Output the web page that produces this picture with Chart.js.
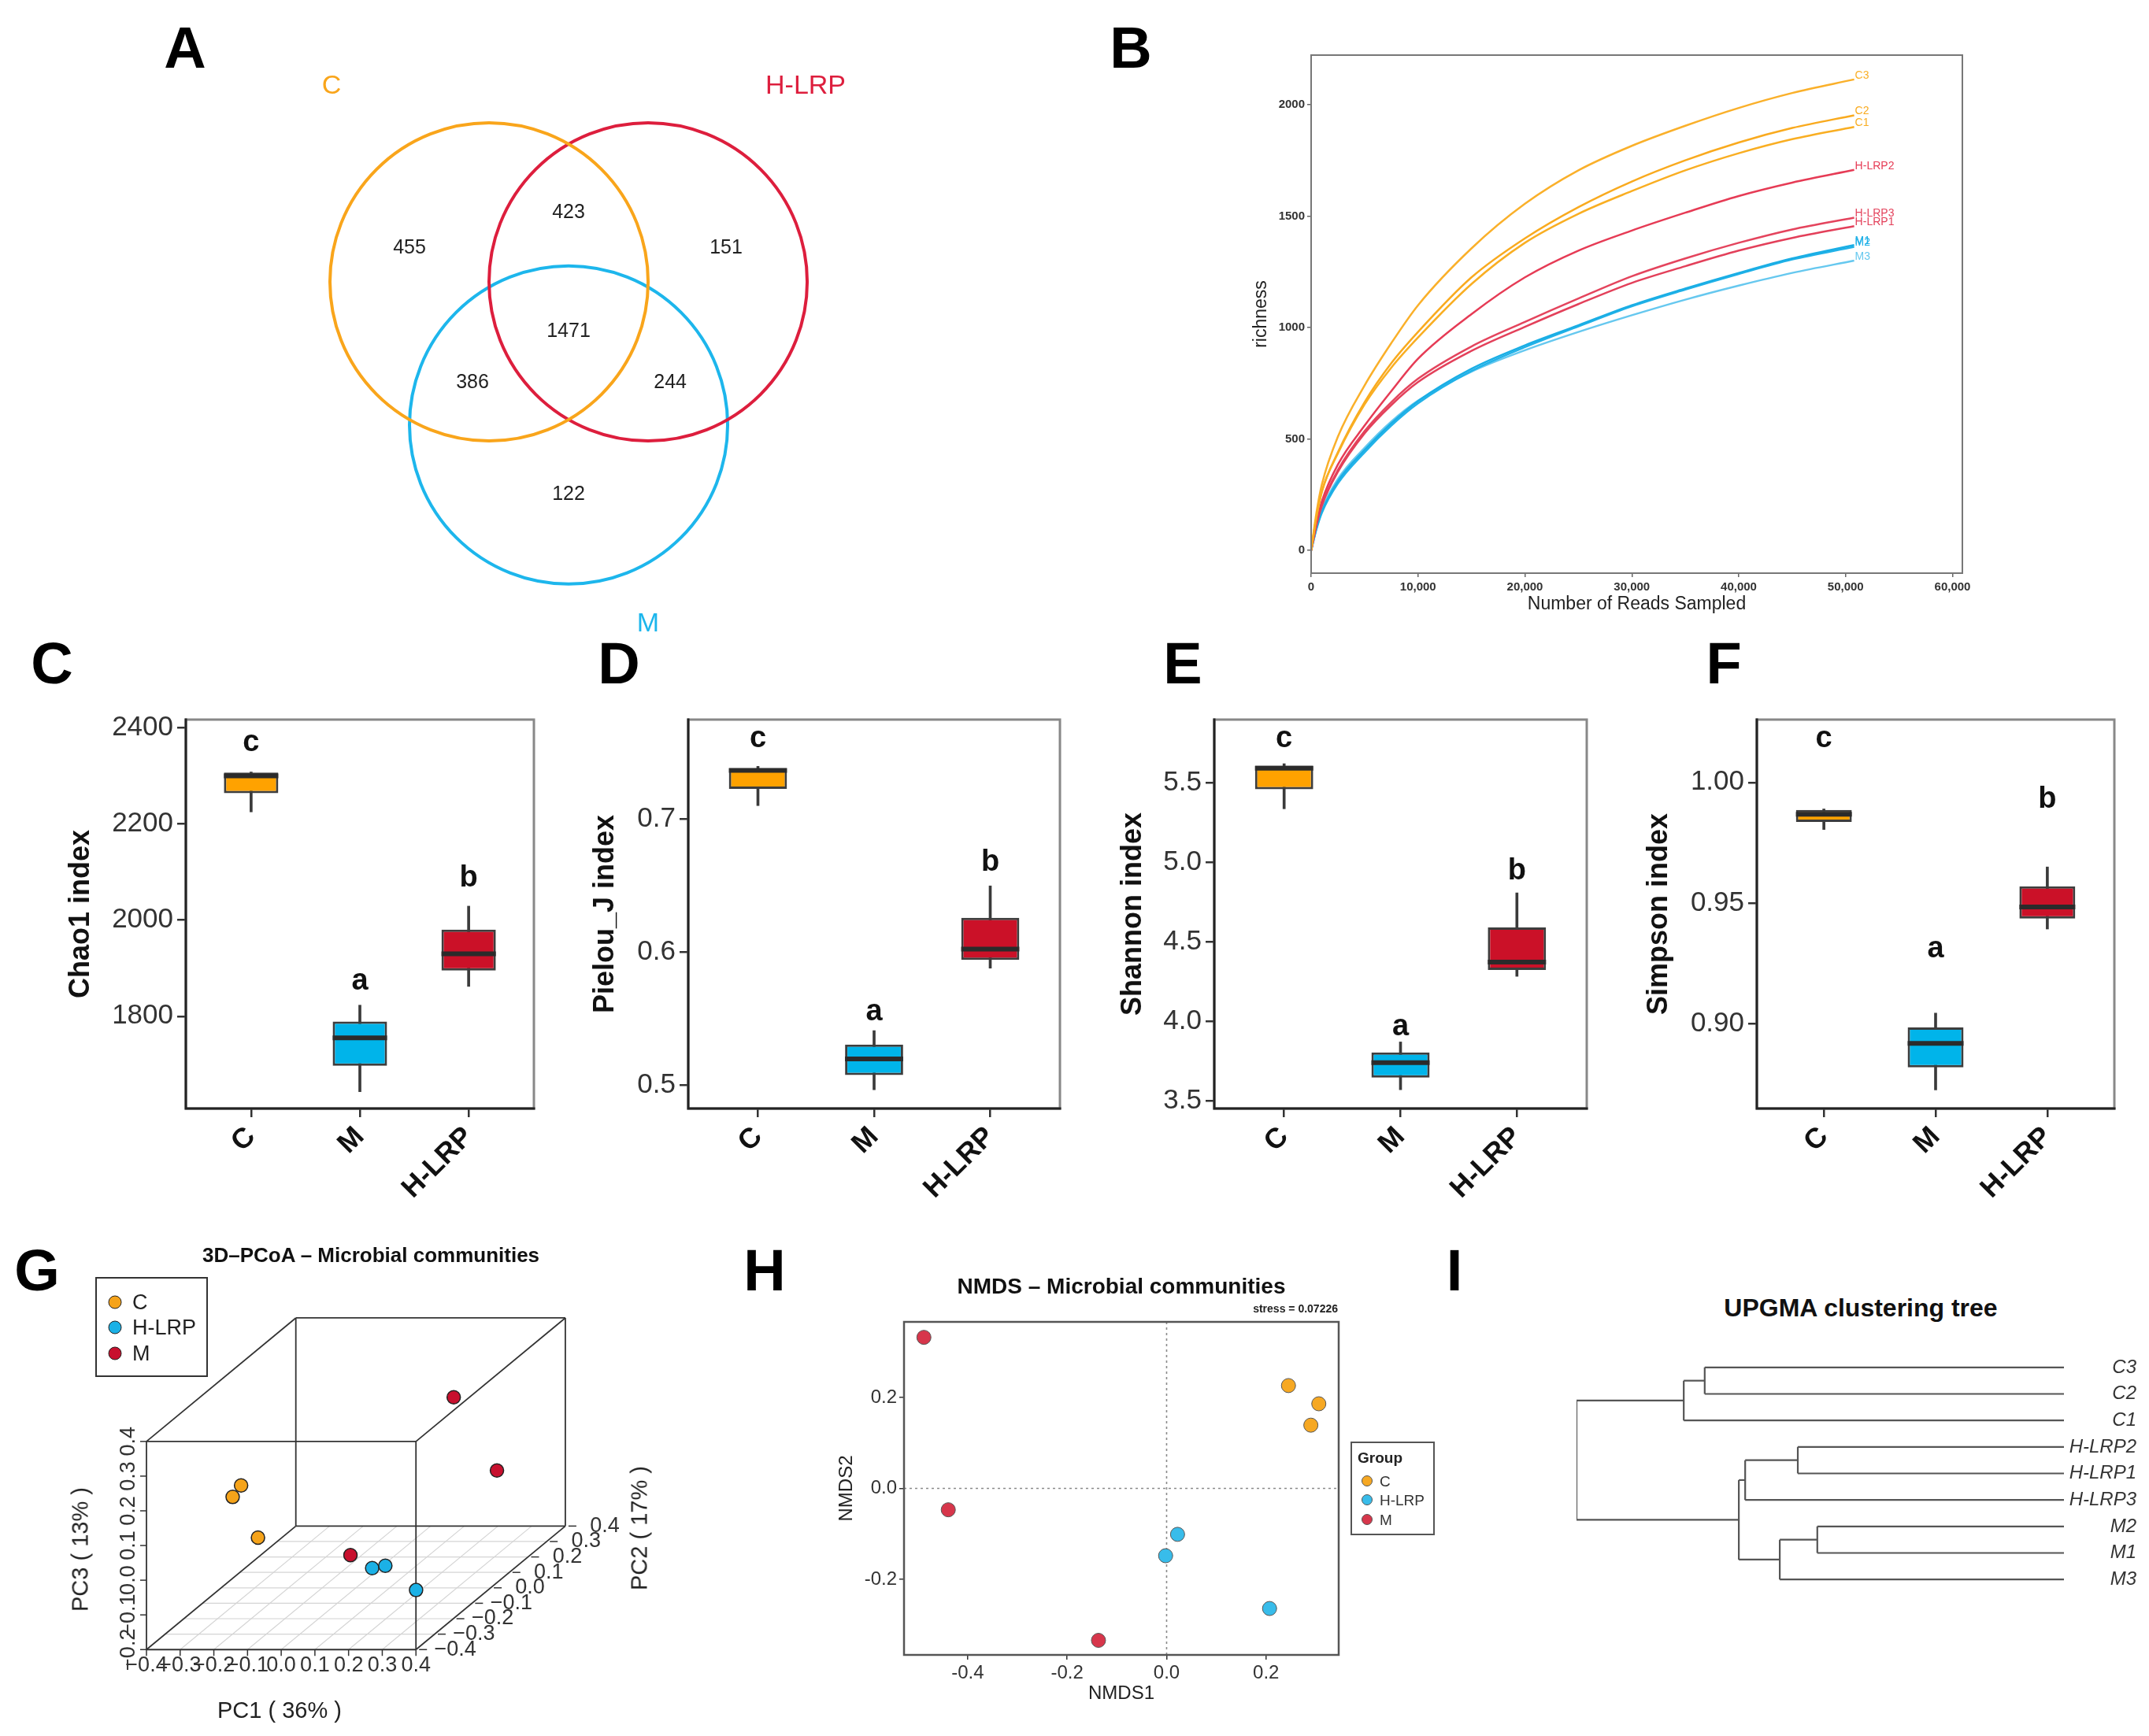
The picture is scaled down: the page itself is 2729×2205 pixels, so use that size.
<!DOCTYPE html>
<html>
<head>
<meta charset="utf-8">
<title>Gut microbiota diversity</title>
<script src="https://cdn.jsdelivr.net/npm/chart.js@4.4.1/dist/chart.umd.min.js"></script>
<style>
  body { margin: 0; background: #fff; }
  #page { position: relative; width: 2729px; height: 2205px; overflow: hidden; background: #fff;
          font-family: 'Liberation Sans', Arial, Helvetica, sans-serif; color: #222; }
  #page canvas { position: absolute; }
  .t { position: absolute; white-space: nowrap; line-height: 1; transform: translate(-50%, -50%); }
  .tl { position: absolute; white-space: nowrap; line-height: 1; transform: translate(0, -50%); }
  .panel { font-size: 74px; font-weight: bold; color: #000; }
  .dot { position: absolute; border-radius: 50%; transform: translate(-50%, -50%); box-sizing: border-box; }
  .box { position: absolute; box-sizing: border-box; }
</style>
</head>
<body>
<div id="page"></div>
<script>
// ---------------- A: Venn
const vennSets = ["C", "H-LRP", "M"];
// C only, C&H, H only, C&M, all three, H&M, M only
const vennCounts = [455, 423, 151, 386, 1471, 244, 122];

// ---------------- B: rarefaction curves
const readDepth = [0, 500, 1000, 2500, 5000, 7500, 10000, 15000, 20000, 25000, 30000, 35000, 40000, 45000, 50800];
const rareC1 = [0, 152, 265, 435, 655, 820, 955, 1195, 1380, 1510, 1612, 1705, 1782, 1845, 1900];
const rareC2 = [0, 150, 262, 440, 665, 840, 980, 1225, 1400, 1540, 1655, 1750, 1830, 1895, 1952];
const rareC3 = [0, 170, 295, 510, 740, 930, 1100, 1355, 1555, 1705, 1815, 1905, 1985, 2052, 2113];
const rareH1 = [0, 115, 200, 352, 525, 652, 755, 895, 1003, 1105, 1200, 1275, 1345, 1402, 1455];
const rareH2 = [0, 125, 220, 385, 560, 715, 860, 1060, 1225, 1345, 1435, 1515, 1590, 1650, 1707];
const rareH3 = [0, 118, 205, 360, 535, 665, 770, 915, 1025, 1130, 1230, 1310, 1380, 1440, 1493];
const rareM1 = [0, 100, 175, 310, 450, 570, 670, 815, 920, 1010, 1100, 1175, 1245, 1310, 1370];
const rareM2 = [0, 95, 168, 300, 440, 560, 660, 805, 912, 1005, 1095, 1170, 1240, 1305, 1362];
const rareM3 = [0, 105, 182, 320, 460, 578, 672, 802, 898, 980, 1055, 1125, 1188, 1245, 1300];
const rareNames = ["C1", "C2", "C3", "H-LRP1", "H-LRP2", "H-LRP3", "M1", "M2", "M3"];
const rareTicksX = [0, 10000, 20000, 30000, 40000, 50000, 60000];
const rareTicksY = [0, 500, 1000, 1500, 2000];

// ---------------- C-F: alpha diversity boxplots
const groups = ["C", "M", "H-LRP"];
// [lower whisker, Q1, median, Q3, upper whisker]
const chao1Stats = [[2225, 2264, 2300, 2307, 2308], [1643, 1697, 1755, 1789, 1823], [1862, 1895, 1930, 1980, 2029]];
const pielouStats = [[0.710, 0.7226, 0.7364, 0.738, 0.7395], [0.4966, 0.5076, 0.5198, 0.5306, 0.541], [0.5879, 0.5941, 0.6023, 0.6257, 0.6497]];
const shannonStats = [[5.335, 5.457, 5.59, 5.606, 5.618], [3.571, 3.647, 3.741, 3.805, 3.871], [4.283, 4.323, 4.372, 4.59, 4.807]];
const simpsonStats = [[0.9805, 0.9836, 0.9868, 0.9886, 0.989], [0.8727, 0.882, 0.892, 0.8986, 0.9045], [0.9393, 0.9436, 0.9484, 0.957, 0.965]];
const sigLetters = ["c", "a", "b"];
const chao1LetterY = [2369, 1873, 2087];
const pielouLetterY = [0.760, 0.555, 0.667];
const shannonLetterY = [5.772, 3.963, 4.944];
const simpsonLetterY = [1.018, 0.931, 0.993];
const chao1Ticks = [1800, 2000, 2200, 2400];
const pielouTicks = [0.5, 0.6, 0.7];
const shannonTicks = [3.5, 4.0, 4.5, 5.0, 5.5];
const simpsonTicks = [0.90, 0.95, 1.00];

// ---------------- G: 3D PCoA
const pcoaGroups = ["C", "H-LRP", "M"];
const pc1C = [-0.230, -0.255, -0.202], pc2C = [-0.20, -0.20, -0.16], pc3C = [0.184, 0.151, 0.016];
const pc1H = [0.137, 0.176, 0.356], pc2H = [-0.16, -0.16, -0.32], pc3H = [-0.072, -0.065, -0.064];
const pc1M = [0.113, 0.330, 0.006], pc2M = [0.32, 0.16, -0.04], pc3M = [0.207, 0.067, -0.088];
const pc1Ticks = [-0.4, -0.3, -0.2, -0.1, 0.0, 0.1, 0.2, 0.3, 0.4];
const pc2Ticks = [-0.4, -0.3, -0.2, -0.1, 0.0, 0.1, 0.2, 0.3, 0.4];
const pc3Ticks = [-0.2, -0.1, 0.0, 0.1, 0.2, 0.3, 0.4];

// ---------------- H: NMDS
const nmds1C = [0.245, 0.306, 0.290], nmds2C = [0.226, 0.186, 0.139];
const nmds1H = [0.022, -0.002, 0.207], nmds2H = [-0.101, -0.148, -0.264];
const nmds1M = [-0.488, -0.439, -0.137], nmds2M = [0.332, -0.047, -0.334];
const nmdsTicksX = [-0.4, -0.2, 0.0, 0.2];
const nmdsTicksY = [-0.2, 0.0, 0.2];

// ---------------- I: UPGMA tree
const treeLeaves = ["C3", "C2", "C1", "H-LRP2", "H-LRP1", "H-LRP3", "M2", "M1", "M3"];
// [child, child, height]; numbers refer to earlier merges
const treeMerges = [["M2", "M1", 0.506], ["H-LRP2", "H-LRP1", 0.546], [0, "M3", 0.583], [1, "H-LRP3", 0.654],
                    [3, 2, 0.667], ["C3", "C2", 0.737], [5, "C1", 0.780], [6, 4, 1.0]];

// ====================================================================
const FONT = "'Liberation Sans', Arial, Helvetica, sans-serif";
Chart.defaults.font.family = FONT;
Chart.defaults.color = '#222';
Chart.defaults.animation = false;
Chart.defaults.responsive = false;
Chart.defaults.devicePixelRatio = 1;
Chart.defaults.events = [];
Chart.defaults.plugins.legend.display = false;
Chart.defaults.plugins.tooltip.enabled = false;

const page = document.getElementById('page');

function makeCanvas(left, top, w, h) {
  const c = document.createElement('canvas');
  c.width = w; c.height = h;
  c.style.left = left + 'px'; c.style.top = top + 'px';
  c.style.width = w + 'px'; c.style.height = h + 'px';
  page.appendChild(c);
  return c;
}

function addText(txt, x, y, css, cls) {
  const d = document.createElement('div');
  d.className = cls || 't';
  d.textContent = txt;
  d.style.left = x + 'px';
  d.style.top = y + 'px';
  if (css) d.style.cssText += css;
  page.appendChild(d);
  return d;
}

function addDot(x, y, r, fill, border) {
  const d = document.createElement('div');
  d.className = 'dot';
  d.style.cssText += `left:${x}px;top:${y}px;width:${2 * r}px;height:${2 * r}px;background:${fill};border:${border};`;
  page.appendChild(d);
}

const fixedTicks = arr => scale => { scale.ticks = arr.map(v => ({ value: v })); };

// grey box round the plot area, optional dark left/bottom axis lines
const framePlugin = {
  id: 'frame',
  afterDraw(chart, args, o) {
    const { ctx, chartArea: a } = chart;
    ctx.save();
    ctx.lineWidth = o.width;
    ctx.strokeStyle = o.color;
    ctx.strokeRect(a.left, a.top, a.right - a.left, a.bottom - a.top);
    if (o.axisColor) {
      ctx.strokeStyle = o.axisColor;
      ctx.beginPath();
      ctx.moveTo(a.left, a.top - o.width / 2);
      ctx.lineTo(a.left, a.bottom);
      ctx.lineTo(a.right + o.width / 2, a.bottom);
      ctx.stroke();
    }
    ctx.restore();
  }
};

// ---------------------------------------------------------------- A
const vennColors = ['#F9A51B', '#DD1E3D', '#1DB6EC'];
const vennCenters = [{ x: 0, y: 0 }, { x: 1, y: 0 }, { x: 0.5, y: -0.9 }];
const vennCountPos = [[-0.5, 0.213], [0.5, 0.436], [1.49, 0.213], [-0.104, -0.634], [0.5, -0.312], [1.139, -0.634], [0.5, -1.337]];
const vennNamePos = [[-0.99, 1.228], [1.99, 1.228], [1.0, -2.153]];

const vennTextPlugin = {
  id: 'vennText',
  afterDatasetsDraw(chart) {
    const { ctx, scales: { x, y } } = chart;
    ctx.save();
    ctx.textAlign = 'center';
    ctx.textBaseline = 'middle';
    ctx.font = '25px ' + FONT;
    ctx.fillStyle = '#222';
    vennCounts.forEach((n, i) => ctx.fillText(String(n), x.getPixelForValue(vennCountPos[i][0]), y.getPixelForValue(vennCountPos[i][1])));
    ctx.font = '34px ' + FONT;
    vennSets.forEach((s, i) => {
      ctx.fillStyle = vennColors[i];
      ctx.fillText(s, x.getPixelForValue(vennNamePos[i][0]), y.getPixelForValue(vennNamePos[i][1]));
    });
    ctx.restore();
  }
};

const unitRadius = ctx => {
  const s = ctx.chart.scales.x;
  return s.getPixelForValue(1) - s.getPixelForValue(0);
};

new Chart(makeCanvas(300, 80, 800, 760), {
  type: 'scatter',
  data: {
    datasets: vennSets.map((s, i) => ({
      label: s,
      data: [vennCenters[i]],
      pointRadius: unitRadius,
      backgroundColor: 'rgba(0,0,0,0)',
      borderColor: vennColors[i],
      borderWidth: 4,
      pointBorderWidth: 4
    }))
  },
  options: {
    layout: { padding: 0 },
    scales: {
      x: { display: false, min: -1.589, max: 2.371 },
      y: { display: false, min: -2.386, max: 1.376 }
    }
  },
  plugins: [vennTextPlugin]
});

// ---------------------------------------------------------------- B
const rareSeries = [rareC1, rareC2, rareC3, rareH1, rareH2, rareH3, rareM1, rareM2, rareM3];
const rareColors = ['#F9AE22', '#F9AA1E', '#FAB02A', '#E3405A', '#E63B55', '#E4445D', '#1AAEE5', '#22B2E8', '#66C8EF'];

const endLabelPlugin = {
  id: 'endLabels',
  afterDatasetsDraw(chart) {
    const { ctx } = chart;
    ctx.save();
    ctx.font = '14px ' + FONT;
    ctx.textAlign = 'left';
    ctx.textBaseline = 'middle';
    chart.data.datasets.forEach((ds, i) => {
      const pts = chart.getDatasetMeta(i).data;
      const last = pts[pts.length - 1];
      ctx.fillStyle = ds.borderColor;
      ctx.fillText(ds.label, last.x + 1, last.y - 5);
    });
    ctx.restore();
  }
};

new Chart(makeCanvas(1540, 40, 1020, 760), {
  type: 'line',
  data: {
    datasets: rareNames.map((name, i) => ({
      label: name,
      data: readDepth.map((d, j) => ({ x: d, y: rareSeries[i][j] })),
      borderColor: rareColors[i],
      borderWidth: 2.5,
      pointRadius: 0,
      cubicInterpolationMode: 'monotone'
    }))
  },
  options: {
    layout: { padding: { top: 30, right: 68 } },
    scales: {
      x: {
        type: 'linear', min: 0, max: 60920,
        afterBuildTicks: fixedTicks(rareTicksX),
        afterFit: s => { s.height = 72; },
        ticks: { callback: v => v.toLocaleString('en-US'), font: { size: 15, weight: 'bold' }, color: '#333', padding: 4, maxRotation: 0, autoSkip: false },
        grid: { drawOnChartArea: false, tickLength: 5, color: '#666', lineWidth: 1.5 },
        border: { display: false },
        title: { display: true, text: 'Number of Reads Sampled', font: { size: 23 }, color: '#222', padding: { bottom: 19 } }
      },
      y: {
        min: -102, max: 2222,
        afterBuildTicks: fixedTicks(rareTicksY),
        afterFit: s => { s.width = 125; },
        ticks: { callback: v => String(v), font: { size: 15, weight: 'bold' }, color: '#333', padding: 3 },
        grid: { drawOnChartArea: false, tickLength: 5, color: '#666', lineWidth: 1.5 },
        border: { display: false },
        title: { display: true, text: 'richness', font: { size: 23 }, color: '#222', padding: { top: 48 } }
      }
    },
    plugins: { frame: { color: '#777', width: 2 } }
  },
  plugins: [framePlugin, endLabelPlugin]
});

// ---------------------------------------------------------------- C-F
const groupColors = ['#FFA200', '#00B4EA', '#CB1128'];

const letterPlugin = {
  id: 'letters',
  afterDatasetsDraw(chart, args, o) {
    const { ctx, scales: { x, y } } = chart;
    ctx.save();
    ctx.font = 'bold 38px ' + FONT;
    ctx.fillStyle = '#111';
    ctx.textAlign = 'center';
    ctx.textBaseline = 'middle';
    o.heights.forEach((h, i) => ctx.fillText(sigLetters[i], x.getPixelForValue(i + 1), y.getPixelForValue(h)));
    ctx.restore();
  }
};

const halfBox = ctx => {
  const s = ctx.chart.scales.x;
  return s.getPixelForValue(1.25) - s.getPixelForValue(1);
};

const boxPanels = [
  { stats: chao1Stats, ticks: chao1Ticks, letters: chao1LetterY, min: 1608, max: 2417, dec: 0, title: 'Chao1 index', L: 236, R: 678, titleX: 103 },
  { stats: pielouStats, ticks: pielouTicks, letters: pielouLetterY, min: 0.4825, max: 0.7746, dec: 1, title: 'Pielou_J index', L: 874, R: 1346, titleX: 769 },
  { stats: shannonStats, ticks: shannonTicks, letters: shannonLetterY, min: 3.453, max: 5.895, dec: 1, title: 'Shannon index', L: 1542, R: 2015, titleX: 1439 },
  { stats: simpsonStats, ticks: simpsonTicks, letters: simpsonLetterY, min: 0.865, max: 1.026, dec: 2, title: 'Simpson index', L: 2231, R: 2685, titleX: 2107 }
];

boxPanels.forEach(p => {
  const left = p.L - 200;
  const tickGrid = { display: true, drawOnChartArea: false, tickLength: 11, color: '#333', lineWidth: 2.5 };
  new Chart(makeCanvas(left, 880, p.R - p.L + 220, 700), {
    type: 'bar',
    data: {
      datasets: [
        { data: p.stats.map((s, i) => ({ x: i + 1, y: [s[0], s[4]] })), backgroundColor: '#3a3a3a', barThickness: 3, grouped: false, order: 3 },
        { data: p.stats.map((s, i) => ({ x: i + 1, y: [s[1], s[3]] })), backgroundColor: groupColors, borderColor: '#3d3d3d',
          borderWidth: 3, borderSkipped: false, barPercentage: 0.5, categoryPercentage: 1, grouped: false, order: 2 },
        { type: 'line', data: p.stats.map((s, i) => ({ x: i + 1, y: s[2] })), showLine: false, pointStyle: 'line',
          pointBorderColor: '#2b2b2b', pointBorderWidth: 6, pointRadius: halfBox, order: 1 }
      ]
    },
    options: {
      layout: { padding: { top: 34, right: 20 } },
      scales: {
        x: {
          type: 'linear', min: 0.4, max: 3.6, offset: false,
          afterBuildTicks: fixedTicks([1, 2, 3]),
          afterFit: s => { s.height = 172; },
          ticks: { callback: v => groups[v - 1], minRotation: 45, maxRotation: 45, autoSkip: false, font: { size: 36, weight: 'bold' }, color: '#111', padding: 4 },
          grid: Object.assign({ offset: false }, tickGrid),
          border: { display: false }
        },
        y: {
          min: p.min, max: p.max,
          afterBuildTicks: fixedTicks(p.ticks),
          afterFit: s => { s.width = 200; },
          ticks: { callback: v => v.toFixed(p.dec), font: { size: 35 }, color: '#333', padding: 5 },
          grid: tickGrid,
          border: { display: false },
          title: { display: true, text: p.title, font: { size: 36, weight: 'bold' }, color: '#111', padding: { top: p.titleX - left - 21.6 } }
        }
      },
      plugins: { frame: { color: '#888', width: 3, axisColor: '#222' }, letters: { heights: p.letters } }
    },
    plugins: [framePlugin, letterPlugin]
  });
});

// ---------------------------------------------------------------- G
const pcoaColors = ['#F5A31A', '#1BB1E6', '#C8102E'];
// oblique projection of the 3D box into page-like units (origin at front-left-bottom corner)
function proj(p1, p2, p3) {
  return { x: 437.5 * (p1 + 0.4) + 242.5 * (p2 + 0.4), y: 455 * (p3 + 0.2) + 202.5 * (p2 + 0.4) };
}
const r1 = [pc1Ticks[0], pc1Ticks[pc1Ticks.length - 1]];
const r2 = [pc2Ticks[0], pc2Ticks[pc2Ticks.length - 1]];
const r3 = [pc3Ticks[0], pc3Ticks[pc3Ticks.length - 1]];

const cubeEdges = [];
for (let a = 0; a < 8; a++) {
  for (let b = a + 1; b < 8; b++) {
    const d = a ^ b;
    if (d === 1 || d === 2 || d === 4) {
      const c = k => proj(r1[k & 1], r2[(k >> 1) & 1], r3[(k >> 2) & 1]);
      cubeEdges.push([c(a), c(b)]);
    }
  }
}
const floorLines = [];
pc1Ticks.slice(1, -1).forEach(v => floorLines.push([proj(v, r2[0], r3[0]), proj(v, r2[1], r3[0])]));
pc2Ticks.slice(1, -1).forEach(v => floorLines.push([proj(r1[0], v, r3[0]), proj(r1[1], v, r3[0])]));

const fmtMinus = v => (v < -1e-9 ? '\u2212' : '') + Math.abs(v).toFixed(1);

const axes3dPlugin = {
  id: 'axes3d',
  afterDatasetsDraw(chart) {
    const { ctx, scales: { x, y } } = chart;
    const px = p => ({ x: x.getPixelForValue(p.x), y: y.getPixelForValue(p.y) });
    ctx.save();
    ctx.strokeStyle = '#333';
    ctx.lineWidth = 1.5;
    ctx.fillStyle = '#333';
    ctx.font = '27px ' + FONT;
    ctx.textAlign = 'center';
    ctx.textBaseline = 'middle';
    pc1Ticks.forEach(v => {
      const p = px(proj(v, r2[0], r3[0]));
      ctx.beginPath(); ctx.moveTo(p.x, p.y); ctx.lineTo(p.x, p.y + 8); ctx.stroke();
      ctx.fillText(fmtMinus(v), p.x, p.y + 20);
    });
    pc2Ticks.forEach(v => {
      const p = px(proj(r1[1], v, r3[0]));
      ctx.beginPath(); ctx.moveTo(p.x + 4, p.y); ctx.lineTo(p.x + 14, p.y); ctx.stroke();
      ctx.fillText(fmtMinus(v), p.x + 50, p.y);
    });
    pc3Ticks.forEach(v => {
      const p = px(proj(r1[0], r2[0], v));
      ctx.beginPath(); ctx.moveTo(p.x, p.y); ctx.lineTo(p.x - 8, p.y); ctx.stroke();
      ctx.save();
      ctx.translate(p.x - 22, p.y);
      ctx.rotate(-Math.PI / 2);
      ctx.fillText(fmtMinus(v), 0, 0);
      ctx.restore();
    });
    ctx.restore();
  }
};

const lineSet = (pts, color, w, order) => ({ data: pts, showLine: true, pointRadius: 0, borderColor: color, borderWidth: w, order });
const pcoaSets = [[pc1C, pc2C, pc3C], [pc1H, pc2H, pc3H], [pc1M, pc2M, pc3M]];

new Chart(makeCanvas(0, 1570, 900, 635), {
  type: 'scatter',
  data: {
    datasets: [
      ...floorLines.map(l => lineSet(l, '#d4d4d4', 1.2, 9)),
      ...cubeEdges.map(l => lineSet(l, '#333', 1.8, 5)),
      ...pcoaSets.map((s, g) => ({
        label: pcoaGroups[g],
        data: s[0].map((v, i) => proj(v, s[1][i], s[2][i])),
        pointRadius: 8.5,
        backgroundColor: pcoaColors[g],
        borderColor: '#222',
        borderWidth: 1.5,
        pointBorderWidth: 1.5,
        order: 0
      }))
    ]
  },
  options: {
    layout: { padding: 0 },
    scales: {
      x: { display: false, min: -180, max: 720 },
      y: { display: false, min: -103, max: 532 }
    }
  },
  plugins: [axes3dPlugin]
});

// ---------------------------------------------------------------- H
const nmdsColors = ['#F6A823', '#38BCEA', '#D7364B'];
const nmdsSets = [[nmds1C, nmds2C], [nmds1H, nmds2H], [nmds1M, nmds2M]];

const zeroLinePlugin = {
  id: 'zeroLines',
  beforeDatasetsDraw(chart) {
    const { ctx, chartArea: a, scales: { x, y } } = chart;
    ctx.save();
    ctx.strokeStyle = '#8a8a8a';
    ctx.lineWidth = 1.6;
    ctx.setLineDash([3, 4]);
    ctx.beginPath();
    ctx.moveTo(x.getPixelForValue(0), a.top); ctx.lineTo(x.getPixelForValue(0), a.bottom);
    ctx.moveTo(a.left, y.getPixelForValue(0)); ctx.lineTo(a.right, y.getPixelForValue(0));
    ctx.stroke();
    ctx.restore();
  }
};

const nmdsGrid = { drawOnChartArea: false, tickLength: 6, color: '#333', lineWidth: 1.5 };
new Chart(makeCanvas(1040, 1570, 810, 610), {
  type: 'scatter',
  data: {
    datasets: nmdsSets.map((s, g) => ({
      label: pcoaGroups[g],
      data: s[0].map((v, i) => ({ x: v, y: s[1][i] })),
      pointRadius: 9,
      backgroundColor: nmdsColors[g],
      borderColor: '#555',
      borderWidth: 1,
      pointBorderWidth: 1
    }))
  },
  options: {
    layout: { padding: { top: 109, right: 150 } },
    scales: {
      x: {
        min: -0.528, max: 0.346,
        afterBuildTicks: fixedTicks(nmdsTicksX),
        afterFit: s => { s.height = 78; },
        ticks: { callback: v => v.toFixed(1), font: { size: 24 }, color: '#333', padding: 3, maxRotation: 0, autoSkip: false },
        grid: nmdsGrid,
        border: { display: false },
        title: { display: true, text: 'NMDS1', font: { size: 24 }, color: '#222', padding: { bottom: 14 } }
      },
      y: {
        min: -0.366, max: 0.366,
        afterBuildTicks: fixedTicks(nmdsTicksY),
        afterFit: s => { s.width = 108; },
        ticks: { callback: v => v.toFixed(1), font: { size: 24 }, color: '#333', padding: 3 },
        grid: nmdsGrid,
        border: { display: false },
        title: { display: true, text: 'NMDS2', font: { size: 24 }, color: '#222', padding: { top: 21 } }
      }
    },
    plugins: { frame: { color: '#555', width: 2.5 } }
  },
  plugins: [zeroLinePlugin, framePlugin]
});

// ---------------------------------------------------------------- I
function treeSegments() {
  const leafPos = {};
  treeLeaves.forEach((n, i) => { leafPos[n] = { y: i, h: 0 }; });
  const nodes = [];
  const segs = [];
  treeMerges.forEach(([a, b, h]) => {
    const na = typeof a === 'number' ? nodes[a] : leafPos[a];
    const nb = typeof b === 'number' ? nodes[b] : leafPos[b];
    segs.push([{ x: h, y: na.y }, { x: h, y: nb.y }]);
    segs.push([{ x: h, y: na.y }, { x: na.h, y: na.y }]);
    segs.push([{ x: h, y: nb.y }, { x: nb.h, y: nb.y }]);
    nodes.push({ y: (na.y + nb.y) / 2, h });
  });
  return segs;
}

// labels end (right-aligned) at the right edge of the canvas
new Chart(makeCanvas(1990, 1700, 723, 340), {
  type: 'scatter',
  data: { datasets: treeSegments().map(s => lineSet(s, '#555', 2.2, 1)) },
  options: {
    layout: { padding: { left: 12, top: 20, bottom: 17 } },
    scales: {
      x: { display: false, min: 0, max: 1, reverse: true },
      y: {
        position: 'right', min: -0.5, max: 8.5, reverse: true,
        afterBuildTicks: fixedTicks(treeLeaves.map((n, i) => i)),
        afterFit: s => { s.width = 92; },
        ticks: { callback: v => treeLeaves[v], font: { size: 24, style: 'italic' }, color: '#333', crossAlign: 'far', padding: 0, autoSkip: false },
        grid: { display: false, drawTicks: false },
        border: { display: false }
      }
    }
  }
});

// ---------------------------------------------------------------- text
[['A', 235, 61], ['B', 1436, 61], ['C', 66, 843], ['D', 786, 843], ['E', 1502, 843], ['F', 2189, 843],
 ['G', 47, 1614], ['H', 971, 1614], ['I', 1847, 1614]].forEach(([t, x, y]) => addText(t, x, y, '', 't panel'));

// G labels and legend
addText('3D\u2013PCoA \u2013 Microbial communities', 471, 1594, 'font-size:26px;font-weight:bold;color:#111;');
addText('PC1 ( 36% )', 355, 2172, 'font-size:29px;color:#222;');
addText('PC3 ( 13% )', 102, 1968, 'font-size:29px;color:#222;transform:translate(-50%,-50%) rotate(-90deg);');
addText('PC2 ( 17% )', 812, 1941, 'font-size:29px;color:#222;transform:translate(-50%,-50%) rotate(-90deg);');
const gLegend = document.createElement('div');
gLegend.className = 'box';
gLegend.style.cssText += 'left:121px;top:1622px;width:143px;height:127px;border:2px solid #333;';
page.appendChild(gLegend);
pcoaGroups.forEach((g, i) => {
  const yy = [1654, 1686, 1719][i];
  addDot(146, yy, 8.5, pcoaColors[i], '1.5px solid #222');
  addText(g, 168, yy, 'font-size:27px;color:#222;', 'tl');
});

// H labels and legend
addText('NMDS \u2013 Microbial communities', 1424, 1634, 'font-size:28px;font-weight:bold;color:#111;');
addText('stress = 0.07226', 1699, 1662, 'font-size:14px;font-weight:bold;color:#222;transform:translate(-100%,-50%);');
const hLegend = document.createElement('div');
hLegend.className = 'box';
hLegend.style.cssText += 'left:1715px;top:1831px;width:107px;height:119px;border:2px solid #555;';
page.appendChild(hLegend);
addText('Group', 1724, 1851, 'font-size:19px;font-weight:bold;color:#222;', 'tl');
pcoaGroups.forEach((g, i) => {
  const yy = [1881, 1905, 1930][i];
  addDot(1736, yy, 7, nmdsColors[i], '1px solid #555');
  addText(g, 1752, yy, 'font-size:19px;color:#333;', 'tl');
});

// I title
addText('UPGMA clustering tree', 2363, 1661, 'font-size:32px;font-weight:bold;color:#111;');
</script>
</body>
</html>
